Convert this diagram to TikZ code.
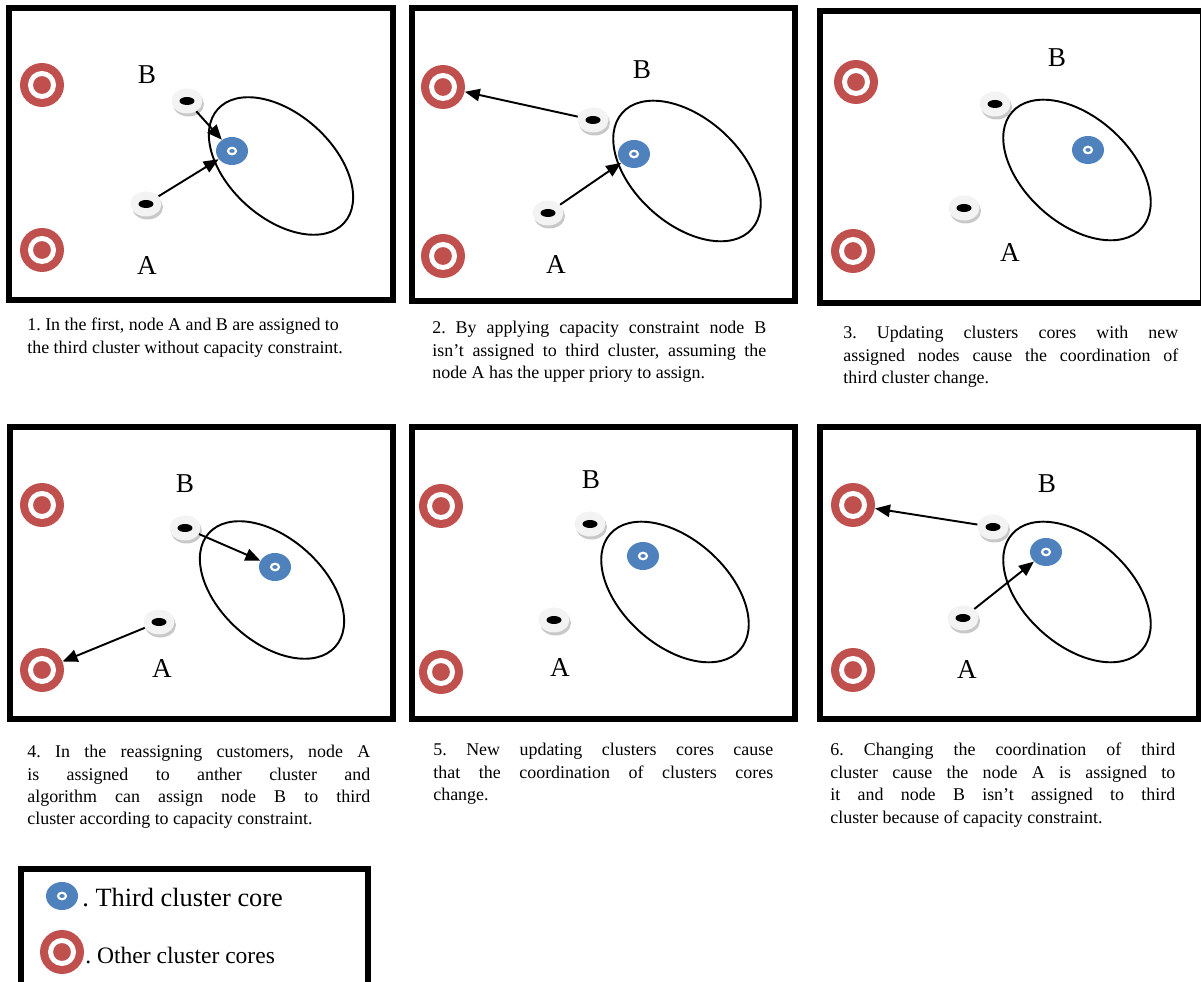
\documentclass[tikz,border=0pt]{standalone}
\usepackage{fontspec}
\setmainfont{Liberation Serif}
\usetikzlibrary{shapes.geometric, arrows.meta, positioning, shadows}
\definecolor{corered}{RGB}{192,80,77}
\definecolor{coreblue}{RGB}{79,129,189}
\definecolor{custgray}{RGB}{243,243,243}
\definecolor{shadowgray}{RGB}{200,200,200}
\frenchspacing
\tikzset{
  frame/.style={draw=black, line width=3.4pt},
  othercore/.style={circle, fill=corered, minimum size=0.88cm, inner sep=0pt,
    path picture={\draw[white, line width=2.8pt] (path picture bounding box.center) circle (0.23cm);}},
  thirdcore/.style={ellipse, fill=coreblue, minimum width=0.64cm, minimum height=0.56cm, inner sep=0pt,
    path picture={\draw[white, line width=1.25pt] (path picture bounding box.center) ellipse (0.08cm and 0.065cm);}},
  customer/.style={ellipse, fill=custgray, minimum width=0.62cm, minimum height=0.5cm, inner sep=0pt,
    drop shadow={shadow xshift=0.03cm, shadow yshift=-0.06cm, fill=shadowgray, opacity=1},
    path picture={\fill[black] (path picture bounding box.center) ellipse (0.15cm and 0.08cm);}},
  tag/.style={font=\fontsize{15.5}{18}\selectfont, inner sep=0pt},
  caption/.style={anchor=north west, inner sep=0pt, font=\fontsize{10.2}{12.75}\selectfont, align=justify},
  cluster/.style={draw=black, line width=1.1pt},
  assign/.style={-{Triangle[length=8.5pt, width=7pt]}, line width=1.1pt}
}
\begin{document}
\begin{tikzpicture}[x=0.02cm, y=-0.02cm]
  \useasboundingbox (0,0) rectangle (1201,982);

  % Frames
  \draw[frame] (9,8) rectangle (393,300);
  \draw[frame] (412,8) rectangle (795,301);
  \draw[frame] (820,11) rectangle (1203,303);
  \draw[frame] (10,427) rectangle (393,719);
  \draw[frame] (412,427) rectangle (795,719);
  \draw[frame] (820,427) rectangle (1199,719);

  % Panel 1
  \node[othercore] (r1a) at (42,85) {};
  \node[othercore] (r1b) at (42,250) {};
  \draw[cluster, rotate around={-42:(281,166)}] (281,166) ellipse [x radius=85, y radius=52];
  \node[thirdcore] (c1) at (232,151) {};
  \node[customer] (b1) at (187,101) {};
  \node[customer] (a1) at (146,204) {};
  \node[tag] (lb1) at (147,75) {B};
  \node[tag] (la1) at (147,266) {A};
  \draw[assign] (b1) -- (c1);
  \draw[assign] (a1) -- (c1);

  % Panel 2
  \node[othercore] (r2a) at (443,87) {};
  \node[othercore] (r2b) at (443,256) {};
  \draw[cluster, rotate around={-42:(687,171)}] (687,171) ellipse [x radius=87, y radius=53];
  \node[thirdcore] (c2) at (634,154) {};
  \node[customer] (b2) at (593,120) {};
  \node[customer] (a2) at (548,213) {};
  \node[tag] (lb2) at (642,70) {B};
  \node[tag] (la2) at (556,265) {A};
  \draw[assign] (b2) -- (r2a);
  \draw[assign] (a2) -- (c2);

  % Panel 3
  \node[othercore] (r3a) at (856,82) {};
  \node[othercore] (r3b) at (853,251) {};
  \draw[cluster, rotate around={-42:(1077,170)}] (1077,170) ellipse [x radius=87, y radius=53];
  \node[thirdcore] (c3) at (1088,150) {};
  \node[customer] (b3) at (995,104) {};
  \node[customer] (a3) at (964,208) {};
  \node[tag] (lb3) at (1057,58) {B};
  \node[tag] (la3) at (1010,253) {A};

  % Panel 4
  \node[othercore] (r4a) at (42,505) {};
  \node[othercore] (r4b) at (42,670) {};
  \draw[cluster, rotate around={-42:(272,590)}] (272,590) ellipse [x radius=85, y radius=52];
  \node[thirdcore] (c4) at (275,567) {};
  \node[customer] (b4) at (185,528) {};
  \node[customer] (a4) at (159,622) {};
  \node[tag] (lb4) at (185,484) {B};
  \node[tag] (la4) at (162,669) {A};
  \draw[assign] (b4) -- (c4);
  \draw[assign] (a4) -- (r4b);

  % Panel 5
  \node[othercore] (r5a) at (441,506) {};
  \node[othercore] (r5b) at (441,672) {};
  \draw[cluster, rotate around={-42:(675,592)}] (675,592) ellipse [x radius=87, y radius=53];
  \node[thirdcore] (c5) at (643,556) {};
  \node[customer] (b5) at (590,524) {};
  \node[customer] (a5) at (554,620) {};
  \node[tag] (lb5) at (591,480) {B};
  \node[tag] (la5) at (560,668) {A};

  % Panel 6
  \node[othercore] (r6a) at (853,505) {};
  \node[othercore] (r6b) at (853,670) {};
  \draw[cluster, rotate around={-42:(1077,592)}] (1077,592) ellipse [x radius=87, y radius=53];
  \node[thirdcore] (c6) at (1046,552) {};
  \node[customer] (b6) at (993,527) {};
  \node[customer] (a6) at (963,618) {};
  \node[tag] (lb6) at (1047,484) {B};
  \node[tag] (la6) at (967,670) {A};
  \draw[assign] (b6) -- (r6a);
  \draw[assign] (a6) -- (c6);

  % Captions
  \node[caption, align=left] (cap1) at (27,318) {1. In the first, node A and B are assigned to\\the third cluster without capacity constraint.};
  \node[caption, text width=6.68cm] (cap2) at (432,321) {2. By applying capacity constraint node B\linebreak isn’t assigned to third cluster, assuming the\linebreak node A has the upper priory to assign.};
  \node[caption, text width=6.7cm] (cap3) at (843,326) {3. Updating clusters cores with new\linebreak assigned nodes cause the coordination of\linebreak third cluster change.};
  \node[caption, text width=6.86cm] (cap4) at (27,745) {4. In the reassigning customers, node A\linebreak is assigned to anther cluster and\linebreak algorithm can assign node B to third\linebreak cluster according to capacity constraint.};
  \node[caption, text width=6.8cm] (cap5) at (433,743) {5. New updating clusters cores cause\linebreak that the coordination of clusters cores\linebreak change.};
  \node[caption, text width=6.9cm] (cap6) at (830,743) {6. Changing the coordination of third\linebreak cluster cause the node A is assigned to\linebreak it and node B isn’t assigned to third\linebreak cluster because of capacity constraint.};

  % Legend
  \draw[frame] (21,869) rectangle (368,990);
  \node[thirdcore] (key1) at (62,896) {};
  \node[anchor=west, inner sep=0pt, font=\fontsize{15}{18}\selectfont] (keytext1) at (82,898) {. Third cluster core};
  \node[othercore] (key2) at (62,952) {};
  \node[anchor=west, inner sep=0pt, font=\fontsize{13.4}{16}\selectfont] (keytext2) at (85,955) {. Other cluster cores};
\end{tikzpicture}
\end{document}
